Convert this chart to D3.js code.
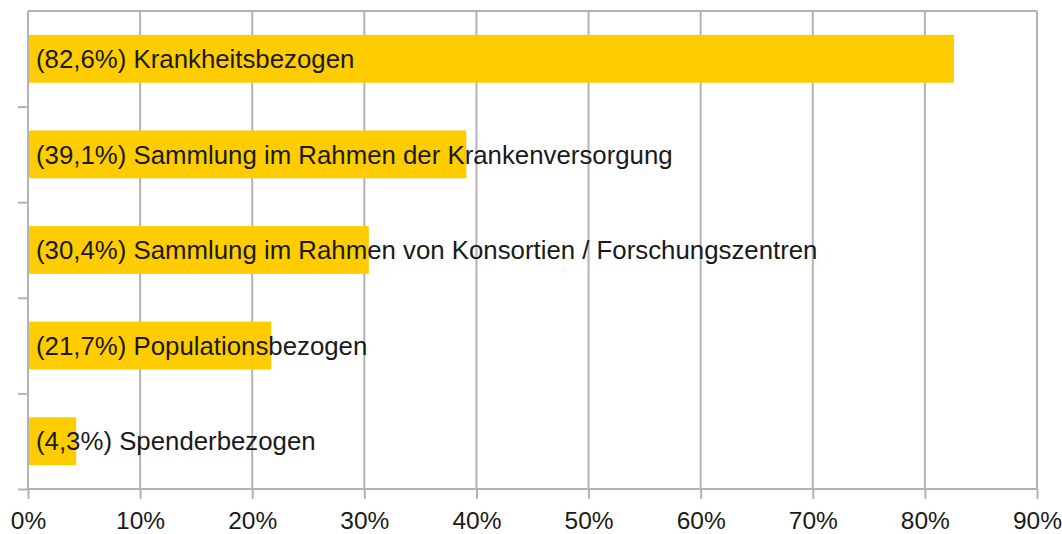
<!DOCTYPE html>
<html lang="de">
<head>
    <meta charset="UTF-8">
    <title>Sammlungsarten</title>
    <script src="https://d3js.org/d3.v7.min.js"></script>
    <style>
        body { margin: 0; background: #fff; }
        svg { font-family: "Liberation Sans", Arial, sans-serif; }
        .grid line { stroke: #b3b3b3; stroke-width: 2px; }
        .axis path, .axis line { stroke: #b3b3b3; stroke-width: 2px; }
        .axis text { font-size: 24.5px; fill: #1a1a1a; }
        .bar { fill: #ffcc00; }
        .label { font-size: 25.8px; fill: #1a1a1a; }
    </style>
</head>
<body>
    <div id="chart"></div>
    <script>
        const categories = [
            "Krankheitsbezogen",
            "Sammlung im Rahmen der Krankenversorgung",
            "Sammlung im Rahmen von Konsortien / Forschungszentren",
            "Populationsbezogen",
            "Spenderbezogen"
        ];
        const values = [82.6, 39.1, 30.4, 21.7, 4.3];
        const xTicks = [0, 10, 20, 30, 40, 50, 60, 70, 80, 90];

        const width = 1062, height = 534;
        const margin = {top: 11, right: 25, bottom: 45, left: 28};
        const w = width - margin.left - margin.right;
        const h = height - margin.top - margin.bottom;

        const x = d3.scaleLinear().domain([0, 90]).range([0, w]);
        const y = d3.scaleBand().domain(categories).range([0, h]).paddingInner(0.5).paddingOuter(0.25);

        const svg = d3.select("#chart").append("svg")
            .attr("width", width)
            .attr("height", height);

        const g = svg.append("g")
            .attr("transform", "translate(" + margin.left + "," + margin.top + ")");

        // vertical grid + top border
        g.append("g")
            .attr("class", "grid")
            .selectAll("line")
            .data(xTicks)
            .enter().append("line")
            .attr("x1", d => x(d))
            .attr("x2", d => x(d))
            .attr("y1", 0)
            .attr("y2", h);

        g.append("line")
            .attr("x1", 0).attr("x2", w)
            .attr("y1", 0).attr("y2", 0)
            .style("stroke", "#b3b3b3").style("stroke-width", "2px");

        g.selectAll(".bar")
            .data(values)
            .enter().append("rect")
            .attr("class", "bar")
            .attr("x", 0)
            .attr("y", (d, i) => y(categories[i]))
            .attr("width", d => x(d))
            .attr("height", y.bandwidth());

        const fmt = v => "(" + v.toFixed(1).replace(".", ",") + "%) ";
        g.selectAll(".label")
            .data(values)
            .enter().append("text")
            .attr("class", "label")
            .attr("x", 8)
            .attr("y", (d, i) => y(categories[i]) + y.bandwidth() / 2)
            .attr("dy", "0.36em")
            .text((d, i) => fmt(d) + categories[i]);

        // left axis: ticks at category boundaries
        const step = y.step();
        const bounds = d3.range(1, categories.length + 1).map(i => i * step);
        const yb = d3.scaleLinear().domain([0, h]).range([0, h]);
        g.append("g")
            .attr("class", "axis")
            .call(d3.axisLeft(yb).tickValues(bounds).tickSize(10).tickFormat(""))
            .call(s => s.select(".domain").attr("d", "M0,0V" + h));

        g.append("g")
            .attr("class", "axis")
            .attr("transform", "translate(0," + h + ")")
            .call(d3.axisBottom(x).tickValues(xTicks).tickSize(10).tickPadding(13).tickFormat(d => d + "%"))
            .call(s => s.select(".domain").attr("d", "M0,0H" + w));
    </script>
</body>
</html>
